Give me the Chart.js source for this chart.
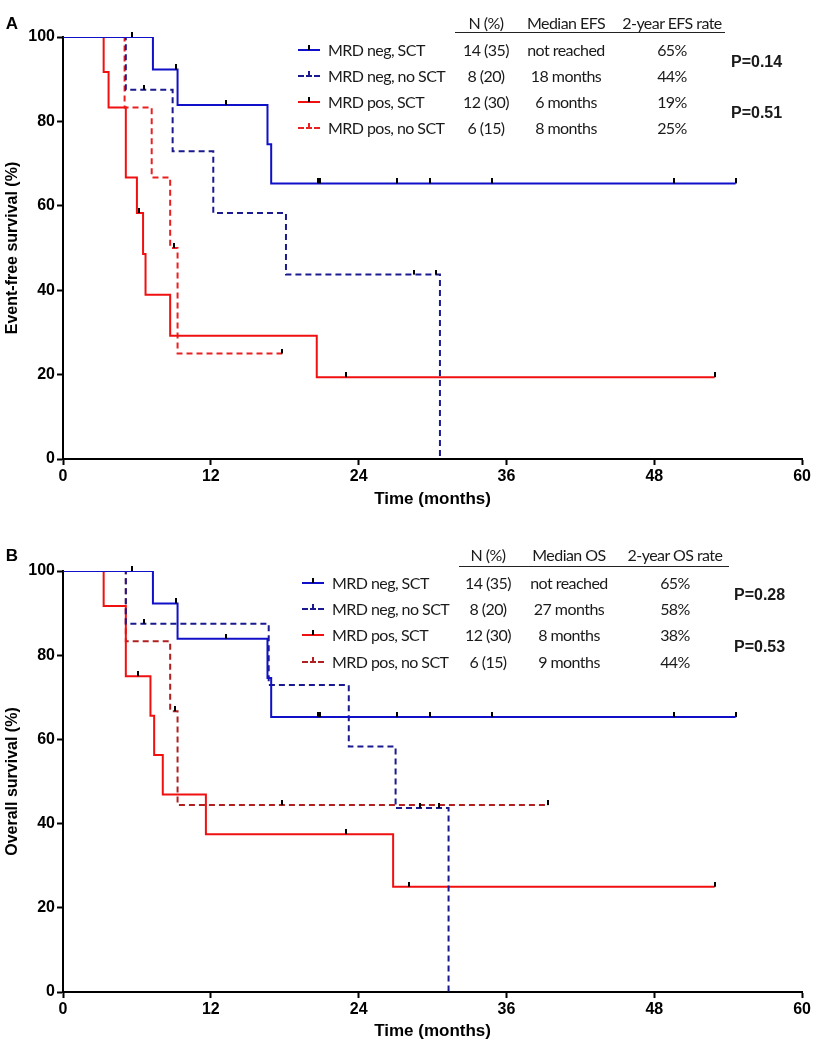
<!DOCTYPE html>
<html><head><meta charset="utf-8">
<script src="https://cdn.jsdelivr.net/npm/chart.js@4.4.1/dist/chart.umd.min.js"></script>
<style>
html,body{margin:0;padding:0;background:#fff;}
#wrap{position:relative;width:813px;height:1050px;overflow:hidden;background:#fff;}
canvas{position:absolute;left:0;}
.t{position:absolute;font-family:Lato,'Liberation Sans',sans-serif;font-size:16px;letter-spacing:-0.55px;color:#1a1a1a;white-space:nowrap;line-height:1;transform:translate(-50%,-50%);}
.l{transform:translate(0,-50%);}
.b{font-weight:bold;font-family:'Liberation Sans',Arial,sans-serif;letter-spacing:0;}
.rule{position:absolute;height:0;border-top:1.5px solid #222;}
.sw{position:absolute;width:22px;height:0;}
.tk{position:absolute;width:1.5px;height:5px;background:#000;}
.pl{position:absolute;font-family:'Liberation Sans',Arial,sans-serif;font-weight:bold;font-size:17px;color:#000;line-height:1;transform:translate(-50%,-50%);}
</style>
</head><body>
<div id="wrap">
<canvas id="cA" width="813" height="520" style="top:0"></canvas>
<canvas id="cB" width="813" height="530" style="top:520px"></canvas>
</div>
<script>
// ---------- DATA ----------
const xTickStep = 12;           // months
const yTickStep = 20;           // percent
const groupNames = ['MRD neg, SCT','MRD neg, no SCT','MRD pos, SCT','MRD pos, no SCT'];
const nPct = ['14 (35)','8 (20)','12 (30)','6 (15)'];
const medianEFS = ['not reached','18 months','6 months','8 months'];
const rateEFS = ['65%','44%','19%','25%'];
const medianOS = ['not reached','27 months','8 months','9 months'];
const rateOS = ['65%','58%','38%','44%'];
const pEFS = ['P=0.14','P=0.51'];
const pOS = ['P=0.28','P=0.53'];

// Panel A (EFS) step curves: times and survival (%)
const efsNegSctT = [0, 7.3, 9.3, 16.6, 16.9, 54.6];
const efsNegSctS = [100, 92.3, 83.9, 74.6, 65.3, 65.3];
const efsNegNoT  = [0, 5.1, 8.9, 12.2, 18.1, 30.6];
const efsNegNoS  = [100, 87.5, 72.9, 58.3, 43.7, 0];
const efsPosSctT = [0, 3.3, 3.7, 5.1, 6.0, 6.5, 6.7, 8.7, 20.6, 52.9];
const efsPosSctS = [100, 91.7, 83.3, 66.7, 58.3, 48.6, 38.9, 29.2, 19.4, 19.4];
const efsPosNoT  = [0, 5.0, 7.2, 8.7, 9.3, 17.8];
const efsPosNoS  = [100, 83.3, 66.7, 50.0, 25.0, 25.0];
// Panel A censoring marks
const efsCensT = [5.6, 9.2, 13.2, 20.7, 20.9, 27.1, 29.8, 34.8, 49.6, 54.6, 6.6, 28.5, 30.3, 6.2, 23.0, 52.9, 9.0, 17.8];
const efsCensS = [100, 92.3, 83.9, 65.3, 65.3, 65.3, 65.3, 65.3, 65.3, 65.3, 87.5, 43.7, 43.7, 58.3, 19.4, 19.4, 50.0, 25.0];

// Panel B (OS) step curves
const osNegSctT = [0, 7.3, 9.3, 16.6, 16.9, 54.6];
const osNegSctS = [100, 92.3, 83.9, 74.6, 65.3, 65.3];
const osNegNoT  = [0, 5.1, 16.7, 23.2, 27.0, 31.3];
const osNegNoS  = [100, 87.5, 72.9, 58.3, 43.7, 0];
const osPosSctT = [0, 3.3, 5.1, 7.1, 7.4, 8.1, 11.6, 26.8, 52.9];
const osPosSctS = [100, 91.7, 75.0, 65.6, 56.3, 46.9, 37.5, 25.0, 25.0];
const osPosNoT  = [0, 5.1, 8.7, 9.3, 39.4];
const osPosNoS  = [100, 83.3, 66.7, 44.4, 44.4];
// Panel B censoring marks
const osCensT = [5.6, 9.2, 13.2, 20.7, 20.9, 27.1, 29.8, 34.8, 49.6, 54.6, 6.6, 29.0, 30.5, 6.1, 23.0, 28.1, 52.9, 9.1, 17.8, 39.4];
const osCensS = [100, 92.3, 83.9, 65.3, 65.3, 65.3, 65.3, 65.3, 65.3, 65.3, 87.5, 43.7, 43.7, 75.0, 37.5, 25.0, 25.0, 66.7, 44.4, 44.4];

// ---------- STYLE ----------
const FONT = "'Liberation Sans', Arial, sans-serif";
const C_NEG_SCT = '#1010c8', C_NEG_NO = '#1a1a90', C_POS_SCT = '#f01010';
const C_POS_NO_A = '#e82020', C_POS_NO_B = '#b02020';
const seriesStyles = [
  {color:C_NEG_SCT, dash:[]},
  {color:C_NEG_NO, dash:[6,4]},
  {color:C_POS_SCT, dash:[]},
  {color:C_POS_NO_A, dash:[6,4]}
];

function zip(t, s){ return t.map((x,i)=>({x:x, y:s[i]})); }
function tickImg(){
  const c=document.createElement('canvas'); c.width=2; c.height=10;
  const g=c.getContext('2d'); g.fillStyle='#000'; g.fillRect(0,0,2,5); return c;
}
const TICK = tickImg();

function curve(data, color, dash){
  return {data:data, showLine:true, stepped:'before', borderColor:color, backgroundColor:color,
    borderWidth:2, borderDash:dash, pointRadius:0, pointHoverRadius:0, fill:false};
}

function makeChart(id, curves, cens, yTitle, geo){
  const datasets = [{data:cens, showLine:false, pointStyle:TICK, pointRadius:5, clip:false}]
    .concat(curves);
  return new Chart(document.getElementById(id), {
    type:'scatter',
    data:{datasets:datasets},
    options:{
      responsive:false, animation:false, events:[],
      layout:{padding:{left:0,right:9,top:geo.top,bottom:0}},
      plugins:{legend:{display:false}, tooltip:{enabled:false}},
      scales:{
        x:{type:'linear', min:0, max:60,
          ticks:{stepSize:xTickStep, color:'#000', font:{family:FONT,size:16,weight:'bold'}, padding:2, maxRotation:0},
          grid:{display:true, drawOnChartArea:false, drawTicks:true, tickLength:6, tickWidth:2, tickColor:'#000'},
          border:{display:true, color:'#000', width:2},
          title:{display:true, text:'Time (months)', color:'#000', font:{family:FONT,size:17,weight:'bold'}, padding:geo.xtp},
          afterFit:function(s){ s.height = geo.xh; }
        },
        y:{type:'linear', min:0, max:100,
          ticks:{stepSize:yTickStep, color:'#000', font:{family:FONT,size:16,weight:'bold'}, padding:2},
          grid:{display:true, drawOnChartArea:false, drawTicks:true, tickLength:6, tickWidth:2, tickColor:'#000'},
          border:{display:true, color:'#000', width:2},
          title:{display:true, text:yTitle, color:'#000', font:{family:FONT,size:16,weight:'bold'}, padding:3},
          afterFit:function(s){ s.width = 63; }
        }
      }
    }
  });
}

makeChart('cA', [
  curve(zip(efsNegSctT, efsNegSctS), C_NEG_SCT, []),
  curve(zip(efsNegNoT, efsNegNoS), C_NEG_NO, [6,4]),
  curve(zip(efsPosSctT, efsPosSctS), C_POS_SCT, []),
  curve(zip(efsPosNoT, efsPosNoS), C_POS_NO_A, [6,4])
], zip(efsCensT, efsCensS), 'Event-free survival (%)', {top:37, xh:61, xtp:10});

makeChart('cB', [
  curve(zip(osNegSctT, osNegSctS), C_NEG_SCT, []),
  curve(zip(osNegNoT, osNegNoS), C_NEG_NO, [6,4]),
  curve(zip(osPosSctT, osPosSctS), C_POS_SCT, []),
  curve(zip(osPosNoT, osPosNoS), C_POS_NO_B, [6,4])
], zip(osCensT, osCensS), 'Overall survival (%)', {top:51, xh:58, xtp:8});

// ---------- TABLE / LEGEND (HTML text) ----------
const wrap = document.getElementById('wrap');
function add(cls, txt, x, y){
  const d=document.createElement('div'); d.className=cls; d.textContent=txt;
  d.style.left=x+'px'; d.style.top=y+'px'; wrap.appendChild(d); return d;
}
function table(g, medHdr, rateHdr, med, rate, pv, pos){
  add('t', 'N (%)', g.nx, g.hy);
  add('t', medHdr, g.mx, g.hy);
  add('t', rateHdr, g.rx, g.hy);
  const r=document.createElement('div'); r.className='rule';
  r.style.left=g.ruleL+'px'; r.style.width=(g.ruleR-g.ruleL)+'px'; r.style.top=g.ruleY+'px'; wrap.appendChild(r);
  groupNames.forEach((nm,i)=>{
    const y=g.rows[i];
    const st=seriesStyles[i];
    const col = (i===3)? pos : st.color;
    const sw=document.createElement('div'); sw.className='sw';
    sw.style.left=g.swx+'px'; sw.style.top=(y-1)+'px';
    sw.style.borderTop='2px '+(st.dash.length?'dashed ':'solid ')+col;
    wrap.appendChild(sw);
    const tk=document.createElement('div'); tk.className='tk';
    tk.style.left=(g.swx+10)+'px'; tk.style.top=(y-5)+'px'; tk.style.background = st.dash.length? col : '#000';
    wrap.appendChild(tk);
    add('t l', nm, g.namex, y);
    add('t', nPct[i], g.nx, y);
    add('t', med[i], g.mx, y);
    add('t', rate[i], g.rx, y);
  });
  add('t l b', pv[0], g.px, g.py[0]);
  add('t l b', pv[1], g.px, g.py[1]);
}
table({hy:23, ruleY:32, ruleL:455, ruleR:725, rows:[50,75.5,101.5,127.5], swx:298, namex:328, nx:486, mx:566, rx:672, px:731, py:[62,113]},
  'Median EFS', '2-year EFS rate', medianEFS, rateEFS, pEFS, C_POS_NO_A);
table({hy:555, ruleY:566, ruleL:459, ruleR:729, rows:[583,608.5,635,661.5], swx:302, namex:332, nx:488, mx:569, rx:675, px:734, py:[595,647]},
  'Median OS', '2-year OS rate', medianOS, rateOS, pOS, C_POS_NO_B);
add('pl', 'A', 12, 23);
add('pl', 'B', 12, 555);
</script>
</body></html>
